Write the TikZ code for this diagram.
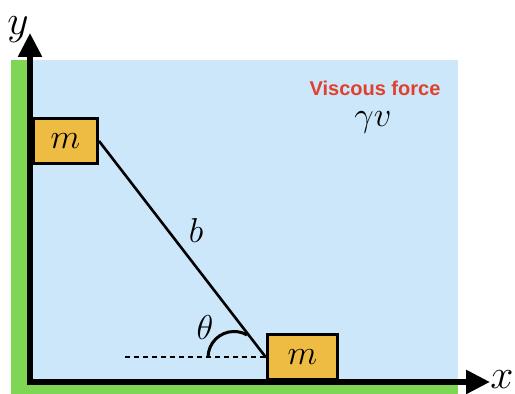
\documentclass[tikz,border=0pt]{standalone}
\usepackage{fontspec}
\setsansfont{Liberation Sans}
\usepackage{xcolor}
\usepackage{tikz}
\usetikzlibrary{arrows.meta,positioning,calc}
\definecolor{fluid}{HTML}{CCE6FA}
\definecolor{wall}{HTML}{7FD655}
\definecolor{block}{HTML}{EEBC42}
\definecolor{forcered}{HTML}{E0412E}
\tikzset{
  massbox/.style={
    rectangle, draw=black, fill=block, line width=1.5pt,
    minimum width=#1, minimum height=22.5pt,
    font=\fontsize{16}{18}\selectfont, inner sep=0pt
  },
  massbox/.default=32pt,
  axisline/.style={
    {Triangle[length=12pt,width=11.5pt]}-{Triangle[length=12pt,width=11.5pt]},
    line width=2.8pt
  },
  rodline/.style={line width=1.3pt},
  refline/.style={dashed, line width=1pt, dash pattern=on 2.5pt off 2pt},
  anglearc/.style={line width=1.5pt},
  axislabel/.style={font=\fontsize{22}{24}\selectfont, inner sep=0pt},
  symlabel/.style={font=\fontsize{18}{20}\selectfont, inner sep=0pt},
}
\begin{document}
\begin{tikzpicture}[x=0.5pt, y=0.5pt]
  \useasboundingbox (0,0) rectangle (515,394);
  \fill[fluid] (28,12) rectangle (458,334);
  \fill[wall] (11,0) rectangle (28,334);
  \fill[wall] (11,0) rectangle (458,11);
  \coordinate (ytip) at (30,361);
  \coordinate (xtip) at (490,12);
  \draw[axisline] (ytip) |- (xtip);
  \node[axislabel] at (18,364) (ylab) {$y$};
  \node[axislabel] at (502,14) (xlab) {$x$};
  \node[massbox=32pt] at (65.5,253) (mtop) {$m$};
  \node[massbox=35pt] at (302.5,36.5) (mbot) {$m$};
  \coordinate (dashend) at (125,36.5);
  \draw[refline] (dashend) -- (mbot.west);
  \draw[rodline] (mtop.east) -- (mbot.west);
  \draw[anglearc] ([xshift=-29pt]mbot.west) arc[start angle=180, end angle=60, radius=13pt];
  \node[symlabel] at (205,66) (theta) {$\theta$};
  \node[symlabel] at (196,163) (rodlen) {$b$};
  \node[font=\sffamily\bfseries\fontsize{10}{12}\selectfont, text=forcered, inner sep=0pt] at (375,306) (visc) {Viscous force};
  \node[font=\fontsize{16}{18}\selectfont, inner sep=0pt] at (373,272) (gammav) {$\gamma v$};
\end{tikzpicture}
\end{document}
